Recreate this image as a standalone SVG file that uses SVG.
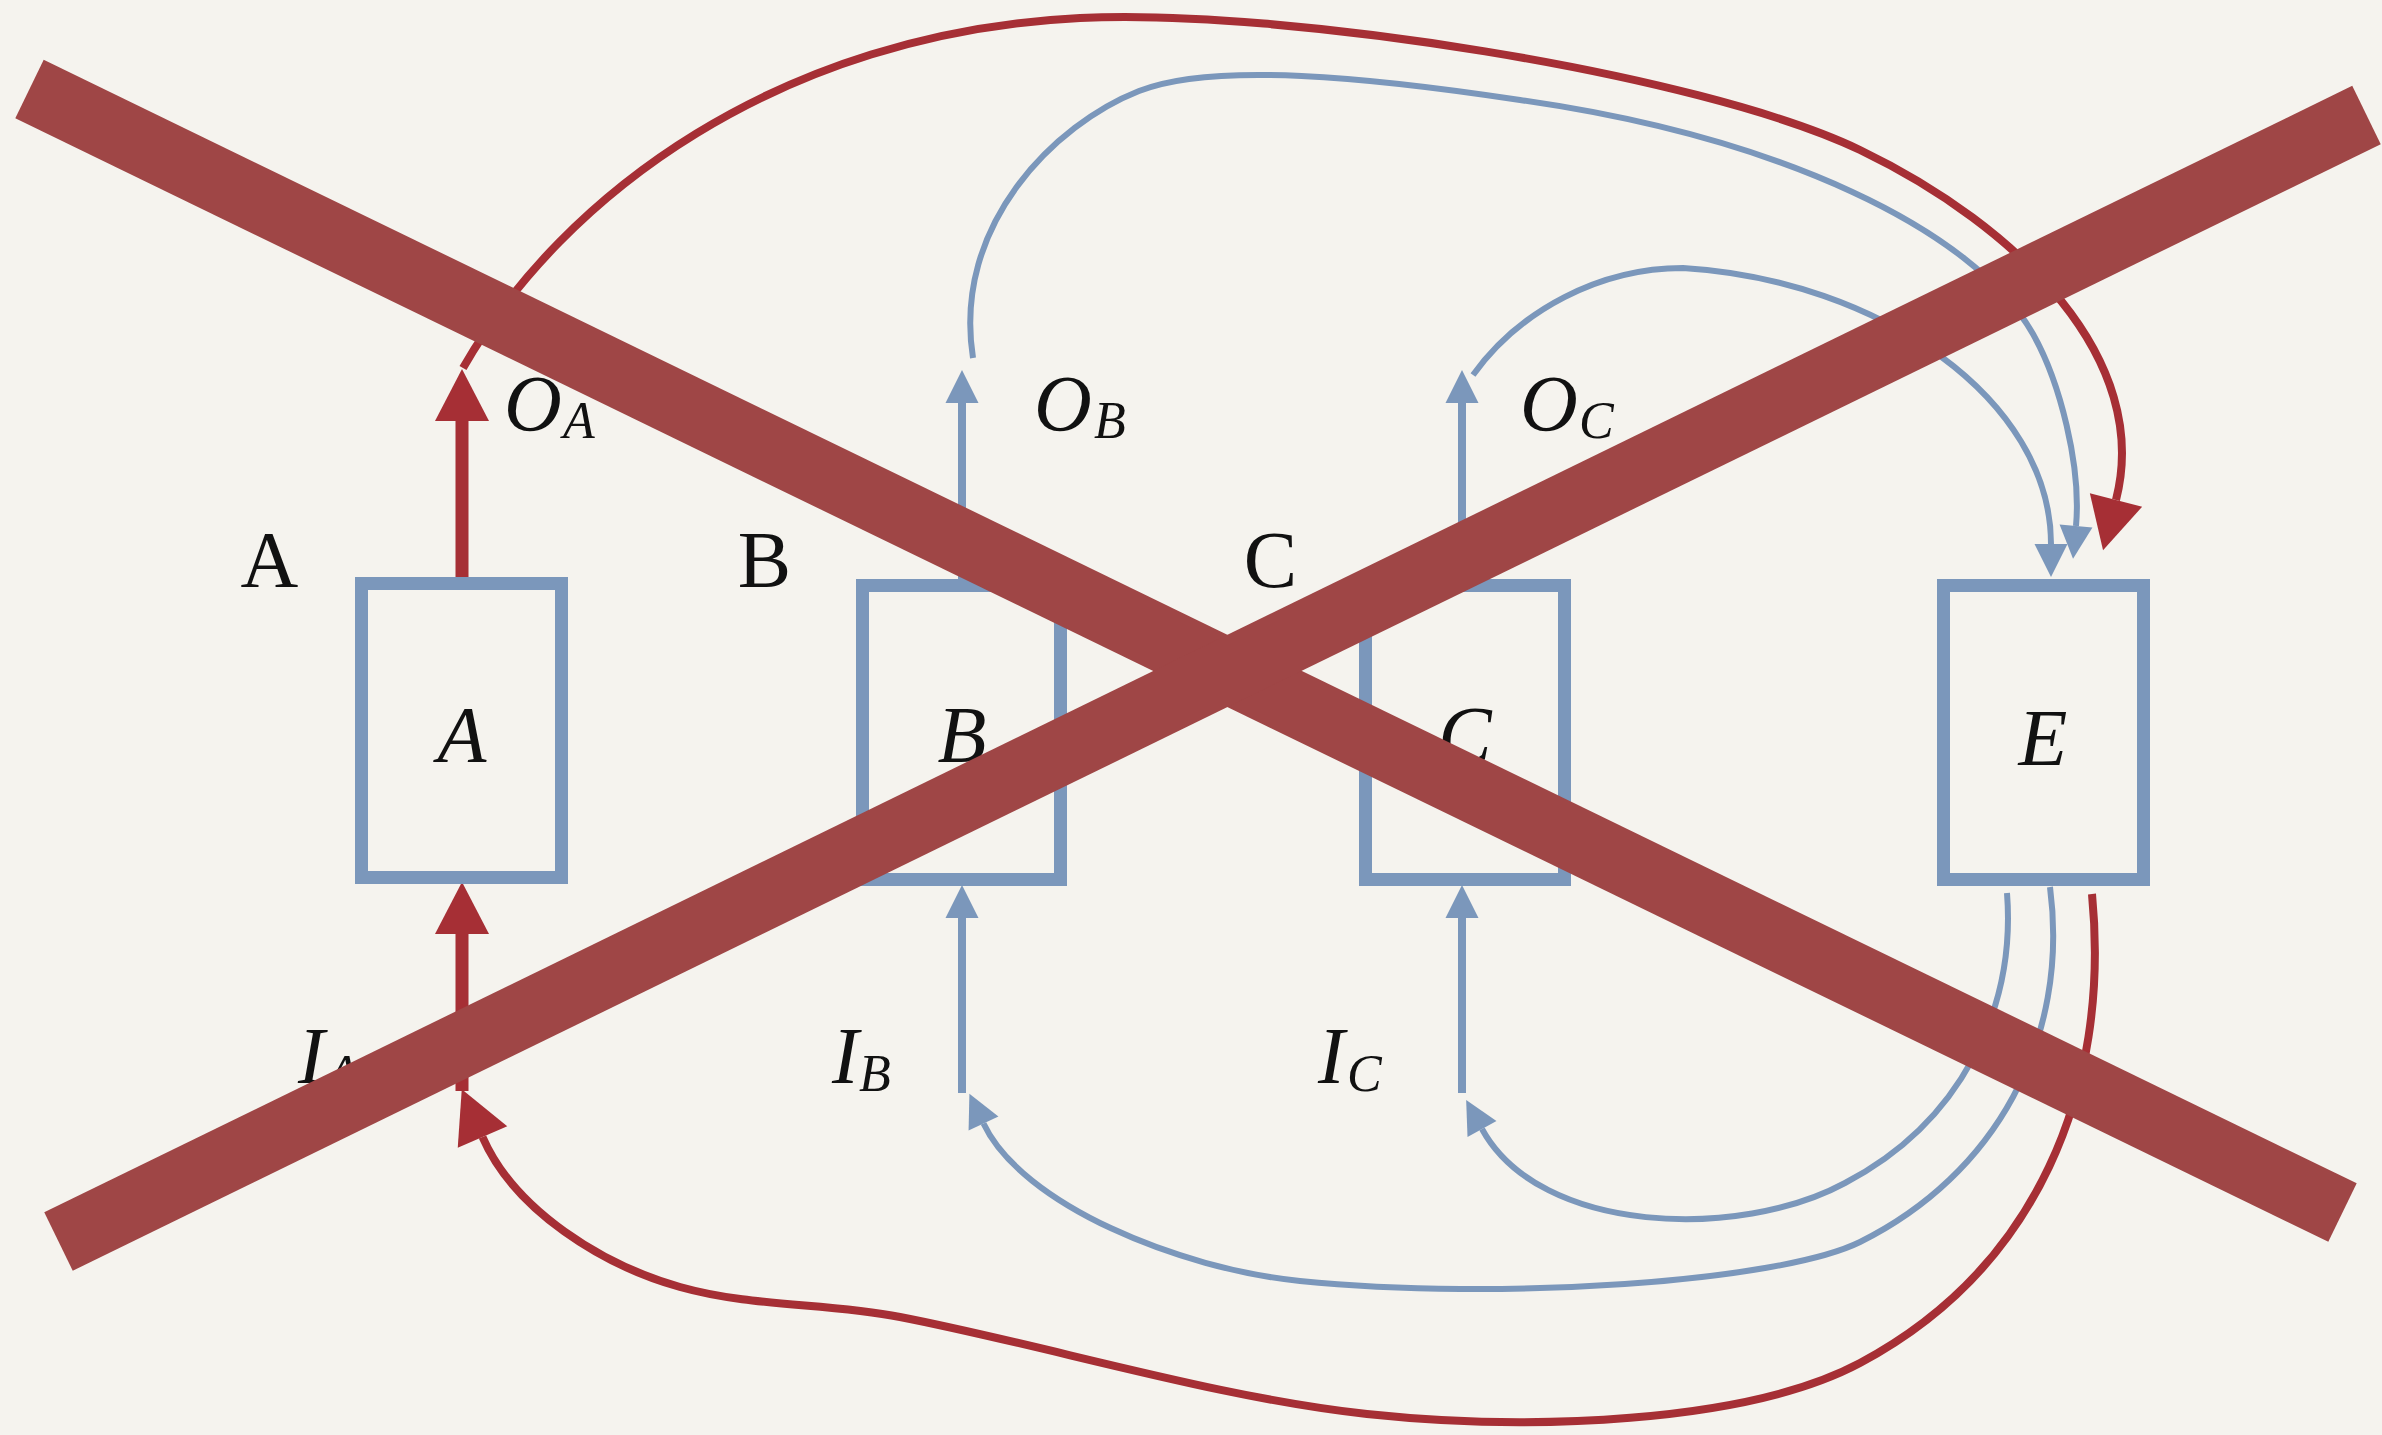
<svg xmlns="http://www.w3.org/2000/svg" width="2382" height="1435" viewBox="0 0 2382 1435">
<style>
.box{fill:none;stroke:#7b97bb;stroke-width:13}
.lbl{font-family:"Liberation Serif","DejaVu Serif",serif;fill:#111}
.it{font-style:italic}
.big{font-size:80px}
.sub{font-size:52px}
.red{fill:none;stroke:#a62f35;stroke-width:8}
.redthick{fill:none;stroke:#a62f35;stroke-width:13}
.blue{fill:none;stroke:#7b97bb;stroke-width:6}
.bluethick{fill:none;stroke:#7b97bb;stroke-width:8}
.cross{fill:none;stroke:#9f4646;stroke-width:65}
</style>
<defs>
<marker id="arR" markerUnits="userSpaceOnUse" markerWidth="60" markerHeight="60" viewBox="0 -30 60 60" refX="0" refY="0" orient="auto" overflow="visible">
<path d="M0,-27 L52,0 L0,27 Z" fill="#a62f35"/>
</marker>
<marker id="arB" markerUnits="userSpaceOnUse" markerWidth="40" markerHeight="40" viewBox="0 -20 40 40" refX="0" refY="0" orient="auto" overflow="visible">
<path d="M0,-16.5 L33,0 L0,16.5 Z" fill="#7b97bb"/>
</marker>
</defs>
<rect x="0" y="0" width="2382" height="1435" fill="#f5f3ee"/>

<g id="connectors">
<path class="redthick" d="M462,578 L462,421" marker-end="url(#arR)"/>
<path class="redthick" d="M462,1091 L462,934" marker-end="url(#arR)"/>
<path class="bluethick" d="M962,579 L962,403" marker-end="url(#arB)"/>
<path class="bluethick" d="M1462,579 L1462,403" marker-end="url(#arB)"/>
<path class="bluethick" d="M962,1093 L962,918" marker-end="url(#arB)"/>
<path class="bluethick" d="M1462,1093 L1462,918" marker-end="url(#arB)"/>
<path class="red" d="M463,368 C563,194 780,33 1080,18 C1280,8 1700,73 1860,150 C2020,227 2152,360 2116,500" marker-end="url(#arR)"/>
<path class="blue" d="M973,358 C952,225 1055,124 1139,91 C1213,61.4 1371.5,77.5 1520,100 C1780,137 1974,229.6 2033,334 C2060,382 2081.4,466 2076,526" marker-end="url(#arB)"/>
<path class="blue" d="M1473,375 C1520,310 1600,268 1683,268 C1880,280 2051,400 2051,544" marker-end="url(#arB)"/>
<path class="blue" d="M2007,893 C2016,1010 1960,1123 1845,1183 C1740,1240 1540,1235 1482,1129" marker-end="url(#arB)"/>
<path class="blue" d="M2050,887 C2070,1040 1995,1175 1860,1242 C1779,1282 1500,1301 1300,1281 C1180,1269 1022,1205 983.5,1123.5" marker-end="url(#arB)"/>
<path class="red" d="M2092,894 C2111,1090 2036,1269 1860,1363 C1745.6,1424 1526,1431 1367,1414 C1218,1398 1047,1345.5 900,1317 C826.5,1302.75 752.2,1307.25 680,1287 C603,1265.4 514.5,1210.6 482.5,1137" marker-end="url(#arR)"/>
</g>

<g id="node-A">
<rect class="box" x="361.5" y="583.5" width="200" height="294"/>
<text class="lbl it big" x="462" y="762" text-anchor="middle">A</text>
</g>
<g id="node-B">
<rect class="box" x="862.5" y="585.5" width="198" height="294"/>
<text class="lbl it big" x="962" y="762" text-anchor="middle">B</text>
</g>
<g id="node-C">
<rect class="box" x="1365.5" y="585.5" width="199" height="294"/>
<text class="lbl it big" x="1465" y="762" text-anchor="middle">C</text>
</g>
<g id="node-E">
<rect class="box" x="1943.5" y="585.5" width="200" height="294"/>
<text class="lbl it big" x="2043" y="765" text-anchor="middle">E</text>
</g>

<g id="labels">
<text class="lbl big" x="269.5" y="587" text-anchor="middle">A</text>
<text class="lbl big" x="764.5" y="587" text-anchor="middle">B</text>
<text class="lbl big" x="1270.5" y="587" text-anchor="middle">C</text>
<text class="lbl it big" x="504" y="431">O</text><text class="lbl it sub" x="563" y="438">A</text>
<text class="lbl it big" x="1034" y="431">O</text><text class="lbl it sub" x="1094" y="438">B</text>
<text class="lbl it big" x="1520" y="431">O</text><text class="lbl it sub" x="1579" y="438">C</text>
<text class="lbl it big" x="298" y="1083">I</text><text class="lbl it sub" x="327" y="1091">A</text>
<text class="lbl it big" x="832" y="1083">I</text><text class="lbl it sub" x="859" y="1091">B</text>
<text class="lbl it big" x="1318" y="1083">I</text><text class="lbl it sub" x="1347" y="1091">C</text>
</g>

<g id="cross">
<line class="cross" x1="29.5" y1="89" x2="2342.5" y2="1212.5"/>
<line class="cross" x1="58.5" y1="1241.5" x2="2366.5" y2="115"/>
</g>
</svg>
